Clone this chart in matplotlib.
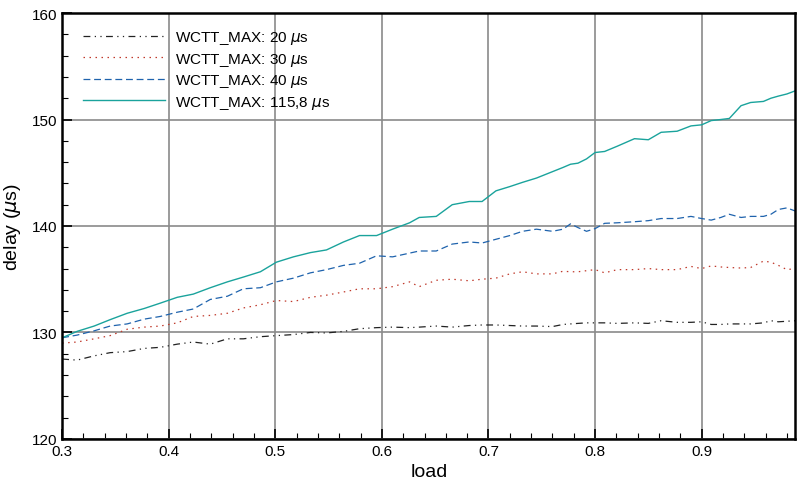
import matplotlib
matplotlib.use("Agg")
import matplotlib.pyplot as plt
from matplotlib.ticker import MultipleLocator

plt.rcParams['font.family'] = ['Liberation Sans', 'DejaVu Sans']

# values
x_a = [0.300, 0.314, 0.330, 0.345, 0.361, 0.377, 0.392, 0.408, 0.423, 0.439,
       0.455, 0.470, 0.486, 0.501, 0.517, 0.533, 0.548, 0.564, 0.579, 0.595,
       0.610, 0.626]
x_b = [0.635, 0.651, 0.666, 0.682, 0.694, 0.707, 0.720, 0.732, 0.745, 0.760,
       0.770, 0.777, 0.784, 0.792, 0.800, 0.809, 0.821, 0.837, 0.850, 0.862,
       0.877, 0.890, 0.900, 0.909, 0.918, 0.926, 0.937, 0.946, 0.958, 0.965,
       0.972, 0.980, 0.988]

d20 = [127.5, 127.4, 127.8, 128.1, 128.2, 128.5, 128.6, 128.9, 129.1, 128.9,
       129.4, 129.4, 129.6, 129.7, 129.8, 130.0, 129.95, 130.1, 130.35, 130.45,
       130.5, 130.45,
       130.5, 130.6, 130.5, 130.65, 130.7, 130.7, 130.65, 130.6, 130.6, 130.55,
       130.75, 130.8, 130.85, 130.9, 130.9, 130.9, 130.85, 130.9, 130.85, 131.1,
       130.95, 130.95, 131.0, 130.75, 130.75, 130.8, 130.8, 130.8, 130.9, 131.1,
       131.0, 131.05, 131.1]
d30 = [129.0, 129.1, 129.4, 129.7, 130.3, 130.5, 130.6, 130.9, 131.5, 131.6,
       131.8, 132.3, 132.6, 133.0, 132.9, 133.3, 133.5, 133.8, 134.1, 134.1,
       134.3, 134.75,
       134.3, 134.9, 135.0, 134.85, 135.0, 135.1, 135.5, 135.7, 135.5, 135.5,
       135.75, 135.7, 135.7, 135.8, 135.9, 135.6, 135.9, 135.9, 136.0, 135.9,
       135.9, 136.2, 136.0, 136.25, 136.15, 136.1, 136.05, 136.1, 136.7, 136.6,
       136.3, 135.9, 136.0]
d40 = [129.5, 129.75, 130.15, 130.6, 130.8, 131.25, 131.5, 131.9, 132.2, 133.1,
       133.4, 134.1, 134.2, 134.75, 135.1, 135.6, 135.9, 136.3, 136.5, 137.2,
       137.1, 137.45,
       137.65, 137.65, 138.3, 138.5, 138.4, 138.75, 139.1, 139.5, 139.7, 139.5,
       139.7, 140.2, 139.85, 139.5, 139.75, 140.25, 140.3, 140.4, 140.5, 140.7,
       140.7, 140.9, 140.7, 140.55, 140.8, 141.1, 140.8, 140.9, 140.9, 141.1,
       141.55, 141.7, 141.4]
d115 = [129.5, 130.1, 130.6, 131.2, 131.8, 132.25, 132.75, 133.3, 133.6, 134.2,
        134.75, 135.2, 135.7, 136.6, 137.1, 137.5, 137.75, 138.5, 139.1, 139.1,
        139.7, 140.3,
        140.8, 140.9, 142.0, 142.3, 142.3, 143.3, 143.7, 144.1, 144.5, 145.1,
        145.5, 145.8, 145.9, 146.3, 146.9, 147.0, 147.5, 148.2, 148.1, 148.8,
        148.9, 149.4, 149.5, 149.9, 150.0, 150.1, 151.3, 151.6, 151.7, 152.0,
        152.2, 152.4, 152.7]

labels = ['WCTT_MAX: 20 $\\mu$s', 'WCTT_MAX: 30 $\\mu$s',
          'WCTT_MAX: 40 $\\mu$s', 'WCTT_MAX: 115,8 $\\mu$s']

x_all = x_a + x_b

fig = plt.figure(figsize=(7.97, 4.85), dpi=100)
ax = fig.add_axes([0.078, 0.093, 0.92, 0.878])

ax.plot(x_all, d20, color='#222222', lw=0.9, dashes=(5.5, 3.5, 1, 3.5, 1, 3.5), label=labels[0])
ax.plot(x_all, d30, color='#c0392b', lw=0.9, dashes=(1.2, 3.6), label=labels[1])
ax.plot(x_all, d40, color='#1f63ad', lw=0.9, dashes=(5.5, 3), label=labels[2])
ax.plot(x_all, d115, color='#1aa39c', lw=1.0, label=labels[3])

ax.set_xlim(0.3, 0.988)
ax.set_ylim(120, 160)
ax.xaxis.set_major_locator(MultipleLocator(0.1))
ax.xaxis.set_minor_locator(MultipleLocator(0.02))
ax.yaxis.set_major_locator(MultipleLocator(10))
ax.yaxis.set_minor_locator(MultipleLocator(2))
ax.tick_params(which='major', direction='in', length=7, width=1.2, labelsize=11)
ax.tick_params(which='minor', direction='in', length=4, width=0.8)
ax.grid(True, which='major', color='#8a8a8a', lw=1.2)
for s in ax.spines.values():
    s.set_linewidth(1.8)

ax.set_xlabel('load', fontsize=14, labelpad=4)
ax.set_ylabel('delay ($\\mu$s)', fontsize=14, labelpad=6)

ax.legend(loc='upper left', bbox_to_anchor=(0.009, 0.995), frameon=False,
          fontsize=11, handlelength=5.4, handletextpad=0.65, labelspacing=0.3,
          borderaxespad=0.5)

fig.savefig('out.png', dpi=100)
